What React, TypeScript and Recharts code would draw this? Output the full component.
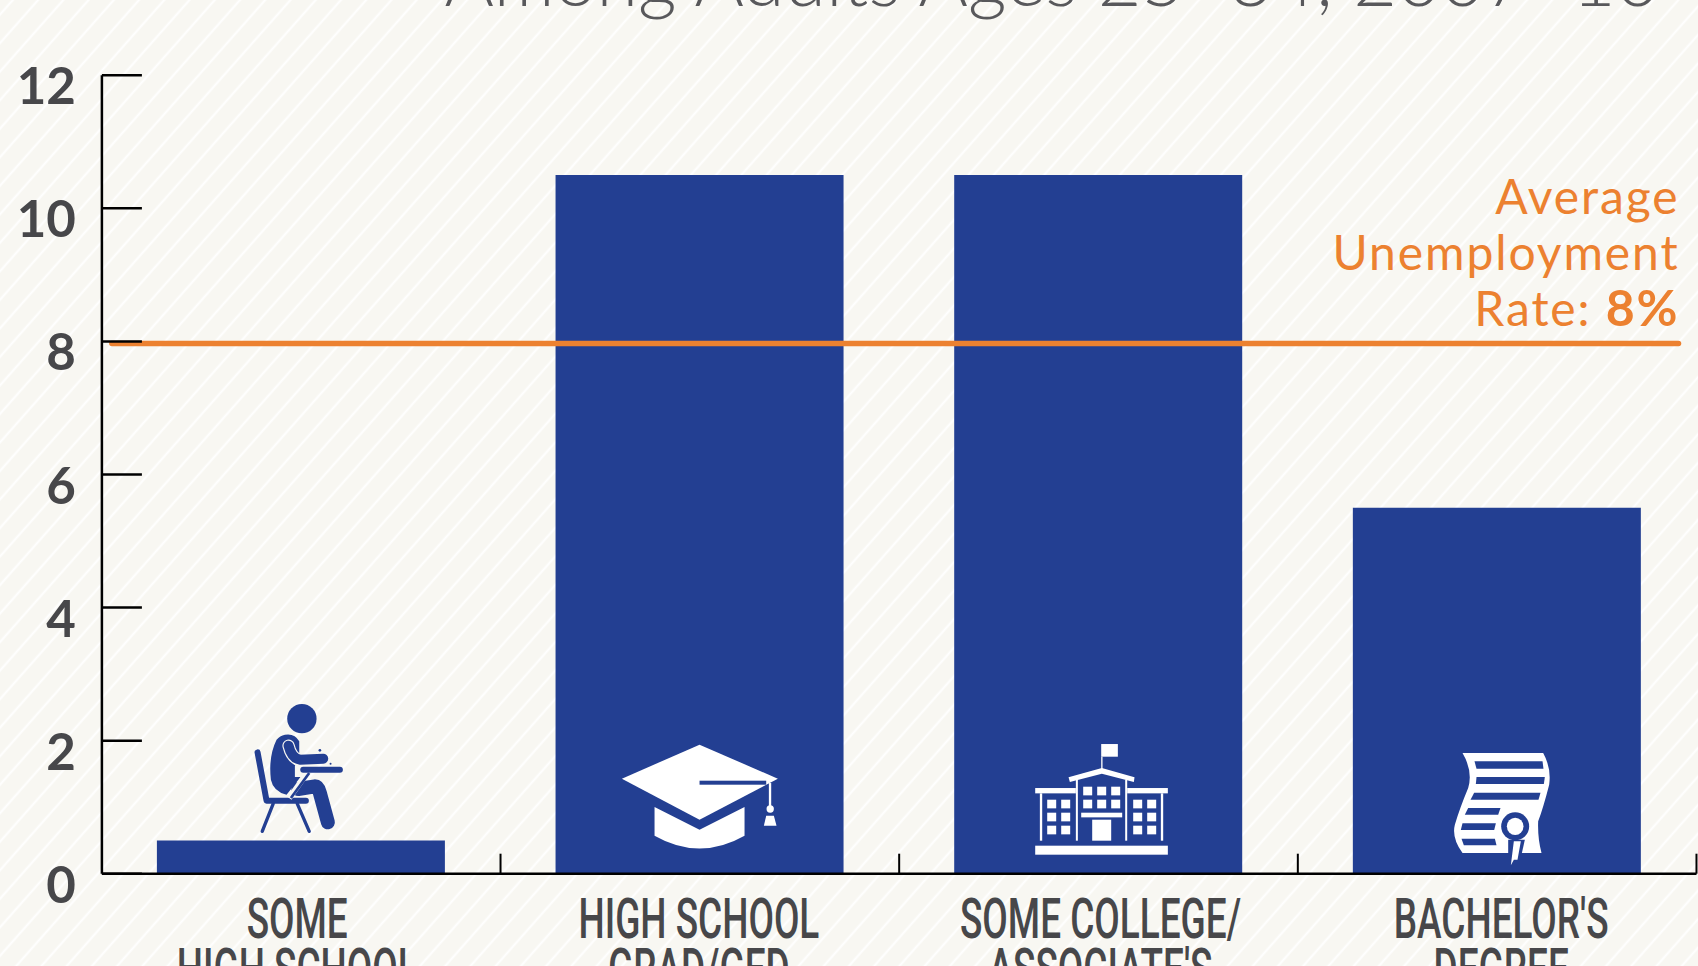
import { BarChart, Bar, XAxis, YAxis, ReferenceLine, Rectangle } from "recharts";

const categories = ["Some High School", "High School Grad/GED", "Some College/Associate's", "Bachelor's Degree"];
const unemployment = [0.5, 10.5, 10.5, 5.5];
const firstLines = ["SOME", "HIGH SCHOOL", "SOME COLLEGE/", "BACHELOR'S"];
const secondLines = ["HIGH SCHOOL", "GRAD/GED", "ASSOCIATE'S", "DEGREE"];
const yTicks = [0, 2, 4, 6, 8, 10, 12];
const averageLine = 7.97;
const averageLabel = ["Average", "Unemployment", "Rate: "];
const averageValue = "8%";
const titleText = "Among Adults Ages 25–34, 2007–10";

const WIDTH = 1698;
const HEIGHT = 966;
const BLUE = "#233f92";
const ORANGE = "#ec8130";
const GREY = "#47474a";
const CREAM = "#f8f7f2";
const BAND = 398.6;
const labelShift = [-4, -1, 2, 4];

const data = categories.map((category, i) => ({ category, rate: unemployment[i] }));

function Background() {
  return (
    <svg width={WIDTH} height={HEIGHT} style={{ position: "absolute", left: 0, top: 0 }}>
      <defs>
        <pattern id="stripes" width={18.9} height={18.9} patternUnits="userSpaceOnUse" patternTransform="rotate(-48.5)">
          <rect x={0} y={8.6} width={18.9} height={2} fill="#ffffff" />
        </pattern>
      </defs>
      <rect width={WIDTH} height={HEIGHT} fill={CREAM} />
      <rect width={WIDTH} height={HEIGHT} fill="url(#stripes)" />
    </svg>
  );
}

function PersonIcon({ cx, base }: { cx: number; base: number }) {
  return (
    <g transform={`translate(${cx - 61},${base - 184}) scale(0.3333)`} fill="none" strokeLinecap="round" strokeLinejoin="round">
      <circle cx={186} cy={87} r={44} fill={BLUE} />
      <path d="M135 135 Q165 130 178 155 L178 190 L165 230 L165 262 L182 262 L140 315 Q100 305 93 270 Q85 200 110 150 Q120 138 135 135 Z" fill={BLUE} />
      <path d="M53 188 L80 333 L198 333" stroke={BLUE} strokeWidth={18} />
      <path d="M100 342 L67 425 M172 342 L208 425" stroke={BLUE} strokeWidth={10} />
      <path d="M175 298 L225 290 Q235 290 240 310 L264 398" stroke={BLUE} strokeWidth={42} />
      <path d="M203 248 L148 325" stroke={CREAM} strokeWidth={17} strokeLinecap="butt" />
      <path d="M208 250 L153 325" stroke={BLUE} strokeWidth={8} strokeLinecap="butt" />
      <path d="M190 240 L300 240" stroke={BLUE} strokeWidth={18} />
      <path d="M146 168 Q155 205 180 212" stroke={CREAM} strokeWidth={37} />
      <path d="M146 168 Q155 205 180 210 L250 207" stroke={BLUE} strokeWidth={30} />
      <circle cx={240} cy={182} r={4} fill={BLUE} />
      <circle cx={272} cy={222} r={3} fill={BLUE} />
    </g>
  );
}

function CapIcon({ cx, base }: { cx: number; base: number }) {
  return (
    <g transform={`translate(${cx - 90},${base - 144}) scale(0.3333)`} fill="#fff">
      <polygon points="270,45 505,147 270,270 37,147" />
      <path d="M135 232 L270 300 L405 232 L405 318 Q270 395 135 318 Z" />
      <rect x={270} y={153} width={200} height={12} fill={BLUE} />
      <rect x={478} y={160} width={7} height={75} />
      <circle cx={482} cy={238} r={11} />
      <polygon points="470,258 493,258 501,288 463,288" />
    </g>
  );
}

function SchoolIcon({ cx, base }: { cx: number; base: number }) {
  const rects = [
    [228, 28, 50, 38], [228, 66, 4, 37], [30, 160, 122, 16], [306, 160, 122, 16],
    [152, 135, 6, 183], [300, 135, 6, 183], [44, 176, 7, 142], [407, 176, 7, 142],
    [168, 234, 123, 14], [201, 255, 57, 63], [30, 333, 398, 27],
  ];
  const windows: number[][] = [];
  for (const x of [66, 108, 324, 366]) for (const y of [195, 234, 273]) windows.push([x, y, 27, 26]);
  for (const x of [174, 216, 258]) for (const y of [156, 195]) windows.push([x, y, 27, 26]);
  return (
    <g transform={`translate(${cx - 73},${base - 139}) scale(0.3333)`} fill="#fff">
      <polygon points="230,100 328,128 326,142 230,117 134,142 130,128" />
      {[...rects, ...windows].map(([x, y, w, h], i) => (
        <rect key={i} x={x} y={y} width={w} height={h} />
      ))}
    </g>
  );
}

function DiplomaIcon({ cx, base }: { cx: number; base: number }) {
  const lines = [
    "104,50 308,50 311,72 110,72",
    "110,97 315,97 312,118 108,118",
    "103,144 302,144 296,165 92,165",
    "85,190 182,190 175,210 75,210",
    "68,236 168,236 163,256 63,256",
    "65,282 165,282 170,302 72,302",
  ];
  return (
    <g transform={`translate(${cx - 57},${base - 129}) scale(0.3333)`} fill="#fff">
      <path d="M68 25 L310 25 Q335 70 328 120 Q310 190 295 230 Q293 280 305 325 L68 325 Q35 280 45 240 Q60 190 85 130 Q100 80 68 25 Z" />
      {lines.map((points) => (
        <polygon key={points} points={points} fill={BLUE} />
      ))}
      <polygon points="205,285 255,285 245,330 205,330" fill={BLUE} />
      <ellipse cx={226} cy={245} rx={42} ry={42} fill={BLUE} />
      <ellipse cx={226} cy={245} rx={25} ry={26} />
      <polygon points="222,290 243,290 233,345 222,345 213,362" />
    </g>
  );
}

const icons = [PersonIcon, CapIcon, SchoolIcon, DiplomaIcon];

function BarWithIcon(props: any) {
  const { x, y, width, height, index } = props;
  const Icon = icons[index];
  return (
    <g>
      <Rectangle x={x} y={y} width={width} height={height} fill={BLUE} />
      <Icon cx={x + width / 2} base={y + height} />
    </g>
  );
}

function LeftTick({ x, y, payload }: any) {
  return (
    <g>
      <line x1={x} x2={x + 40} y1={y} y2={y} stroke="#000" strokeWidth={2.5} />
      <text x={x - 26} y={y + 29} textAnchor="end" fontFamily="Lato" fontWeight={700} fontSize={51} fill={GREY}>
        {payload.value}
      </text>
    </g>
  );
}

function BottomTick({ x, y, index }: any) {
  return (
    <g>
      <line x1={x + BAND / 2} x2={x + BAND / 2} y1={y} y2={y - 20} stroke="#000" strokeWidth={2} />
      <g transform={`translate(${x + labelShift[index]},${y}) scale(0.66,1)`} fontFamily="Roboto" fontWeight={500} fontSize={56} fill={GREY} textAnchor="middle">
        <text y={64}>{firstLines[index]}</text>
        <text y={114}>{secondLines[index]}</text>
      </g>
    </g>
  );
}

function AverageShape({ x1, x2, y1 }: any) {
  const right = x2 - 18;
  return (
    <g>
      <line x1={x1 + 10} x2={right} y1={y1} y2={y1} stroke={ORANGE} strokeWidth={5.5} strokeLinecap="round" />
      <g fontFamily="Lato" fontSize={48} fill={ORANGE} textAnchor="end" letterSpacing={1.9}>
        <text x={right + 1} y={y1 - 129}>{averageLabel[0]}</text>
        <text x={right + 1} y={y1 - 73}>{averageLabel[1]}</text>
        <text x={right + 1} y={y1 - 17}>
          {averageLabel[2]}
          <tspan fontWeight={700} fontSize={50}>{averageValue}</tspan>
        </text>
      </g>
    </g>
  );
}

export default function App() {
  return (
    <div style={{ position: "absolute", left: 0, top: 0, width: WIDTH, height: HEIGHT, overflow: "hidden" }}>
      <Background />
      <BarChart width={WIDTH} height={HEIGHT} data={data} margin={{ top: 75.3, right: 1.5, bottom: 0, left: 0 }}>
        <text x={1052} y={6} textAnchor="middle" fontFamily="Lato" fontWeight={300} fontSize={75.4} fill="#58585b">
          {titleText}
        </text>
        <XAxis dataKey="category" height={92.3} axisLine={{ stroke: "#000", strokeWidth: 2.5 }} tickLine={false} tickSize={0} tickMargin={0} interval={0} tick={<BottomTick />} />
        <YAxis width={101.9} domain={[0, 12]} ticks={yTicks} axisLine={{ stroke: "#000", strokeWidth: 2.5 }} tickLine={false} tickSize={0} tickMargin={0} tick={<LeftTick />} />
        <Bar dataKey="rate" barSize={288} shape={<BarWithIcon />} isAnimationActive={false} />
        <ReferenceLine y={averageLine} shape={<AverageShape />} />
      </BarChart>
    </div>
  );
}
